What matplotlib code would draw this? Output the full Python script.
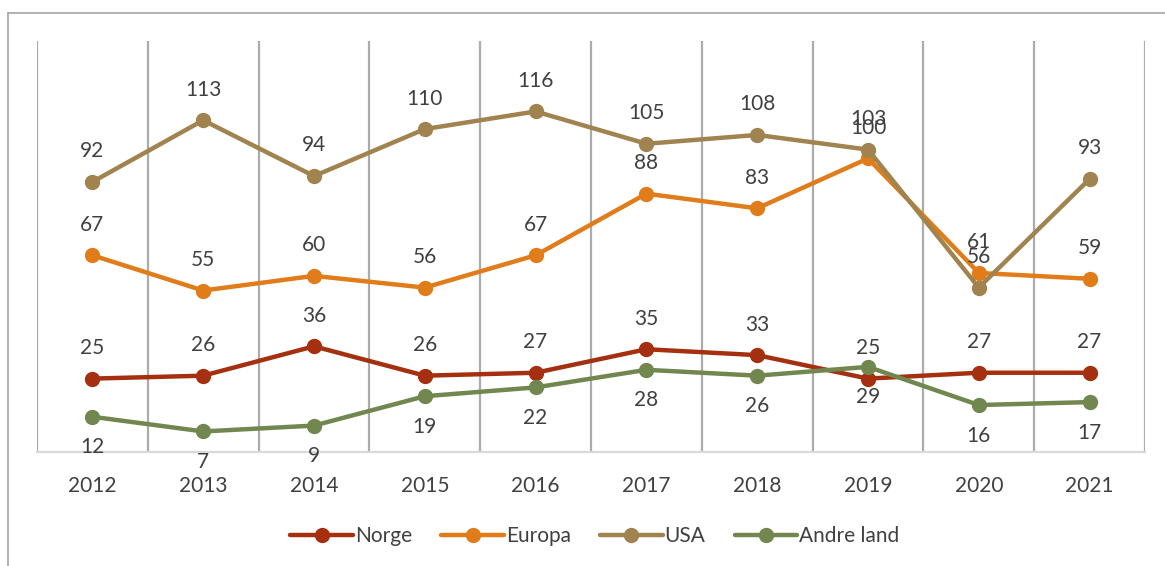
import matplotlib
matplotlib.use("Agg")
import matplotlib.pyplot as plt
from matplotlib.lines import Line2D

years = ["2012", "2013", "2014", "2015", "2016", "2017", "2018", "2019", "2020", "2021"]
norge = [25, 26, 36, 26, 27, 35, 33, 25, 27, 27]
europa = [67, 55, 60, 56, 67, 88, 83, 100, 61, 59]
usa = [92, 113, 94, 110, 116, 105, 108, 103, 56, 93]
andre = [12, 7, 9, 19, 22, 28, 26, 29, 16, 17]

series = [
    ("Norge", norge, "#A5300F", 1),
    ("Europa", europa, "#E07C1A", 1),
    ("USA", usa, "#A0834E", 1),
    ("Andre land", andre, "#72874F", -1),
]

plt.rcParams['font.family'] = ['Lato', 'DejaVu Sans']
txt = "#404040"

fig = plt.figure(figsize=(11.65, 5.66), dpi=100)
ax = fig.add_axes([37 / 1165, 1 - 452 / 566, (1145 - 37) / 1165, (452 - 41) / 566])

x = list(range(len(years)))
for name, vals, col, side in series:
    ax.plot(x, vals, color=col, lw=3.2, marker="o", ms=10, label=name,
            solid_capstyle="round", zorder=3)
    for xi, v in zip(x, vals):
        ax.annotate(str(v), (xi, v), xytext=(0, 22 * side), textcoords="offset points",
                    ha="center", va="center", fontsize=15, color=txt, zorder=4)

ax.set_xlim(-0.5, len(years) - 0.5)
ax.set_ylim(0, 140)
ax.set_xticks(x)
ax.set_xticklabels(years, fontsize=15, color=txt)
ax.set_xticks([i - 0.5 for i in range(len(years) + 1)], minor=True)
ax.tick_params(axis="x", which="major", length=0, pad=17)
ax.tick_params(axis="x", which="minor", length=0)
ax.grid(axis="x", which="minor", color="#ABABAB", lw=1.6)
ax.set_yticks([])
for s in ["top", "right", "left"]:
    ax.spines[s].set_visible(False)
ax.spines["bottom"].set_color("#D9D9D9")
ax.spines["bottom"].set_linewidth(1.6)

ax.legend(loc="center", bbox_to_anchor=(595 / 1165, 1 - 536 / 566), bbox_transform=fig.transFigure,
          ncol=4, frameon=False, fontsize=15, handlelength=3.0, columnspacing=1.4,
          handletextpad=0.1, labelcolor=txt)

# outer chart frame (top and left edges visible)
fig.add_artist(Line2D([8 / 1165, 1.0], [1 - 12.5 / 566, 1 - 12.5 / 566], transform=fig.transFigure,
                      color="#A6A6A6", lw=1.2))
fig.add_artist(Line2D([8 / 1165, 8 / 1165], [0, 1 - 12.5 / 566], transform=fig.transFigure,
                      color="#A6A6A6", lw=1.2))

fig.savefig("out.png", dpi=100, facecolor="white")
